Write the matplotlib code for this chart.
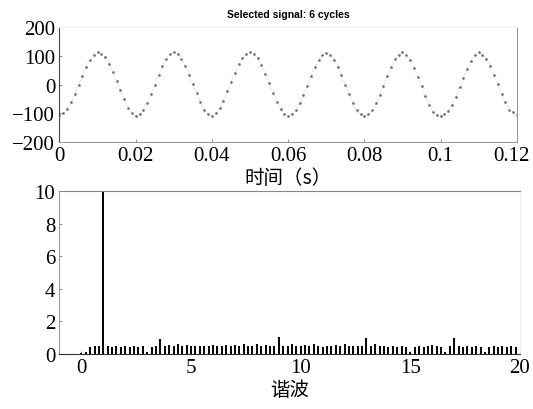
import numpy as np
import matplotlib
matplotlib.use("Agg")
import matplotlib.pyplot as plt
import matplotlib.transforms as mtrans

t_ms = np.arange(0, 121)
signal = [-106, -100, -86, -62, -33, -2, 30, 62, 86, 101,
          112, 106, 94, 72, 44, 12, -20, -52, -80, -100,
          -110, -104, -88, -64, -34, -2, 32, 64, 90, 106,
          114, 106, 90, 66, 34, 2, -30, -62, -88, -104,
          -108, -100, -82, -56, -24, 8, 40, 70, 92, 106,
          112, 106, 92, 68, 36, 4, -28, -60, -86, -102,
          -108, -104, -90, -66, -36, -4, 28, 60, 86, 104,
          110, 102, 86, 62, 32, 0, -34, -66, -90, -104,
          -110, -104, -90, -66, -36, -4, 30, 62, 88, 104,
          112, 102, 84, 58, 26, -6, -40, -70, -94, -106,
          -108, -104, -92, -70, -42, -10, 22, 54, 82, 102,
          112, 104, 88, 64, 34, 2, -32, -62, -88, -96,
          -106]
time_s = t_ms / 1000.0

# harmonic spectrum, 0.2 harmonic steps
harm = np.round(np.arange(0, 100) * 0.2, 1)
amp = [0.05, 0.15, 0.45, 0.5, 0.5, 100, 0.5, 0.45, 0.5, 0.45,
       0.5, 0.45, 0.5, 0.45, 0.5, 0.1, 0.45, 0.5, 0.95, 0.5,
       0.55, 0.5, 0.6, 0.5, 0.55, 0.5, 0.5, 0.5, 0.5, 0.5,
       0.55, 0.5, 0.5, 0.55, 0.5, 0.55, 0.5, 0.6, 0.5, 0.5,
       0.6, 0.5, 0.55, 0.5, 0.5, 1.05, 0.5, 0.5, 0.6, 0.5,
       0.5, 0.55, 0.5, 0.6, 0.5, 0.45, 0.5, 0.5, 0.55, 0.5,
       0.6, 0.5, 0.5, 0.5, 0.5, 1.0, 0.5, 0.6, 0.5, 0.5,
       0.45, 0.5, 0.45, 0.5, 0.45, 0.1, 0.45, 0.5, 0.45, 0.5,
       0.55, 0.5, 0.45, 0.1, 0.5, 1.0, 0.5, 0.45, 0.5, 0.45,
       0.5, 0.45, 0.1, 0.45, 0.5, 0.45, 0.5, 0.45, 0.5, 0.45]

serif = "Liberation Serif"
cjk = ["Noto Sans CJK SC", "DejaVu Sans"]

fig = plt.figure(figsize=(5.33, 4.10), dpi=100)

# top: time signal
ax1 = fig.add_axes([0.1116, 0.6512, 0.858, 0.2805])
ax1.plot(time_s, signal, linestyle=":", color="#c8c8c8", linewidth=0.7)
ax1.plot(time_s, signal, linestyle="none", marker=".", markersize=1.8, color="#707070")
ax1.set_xlim(0, 0.12)
ax1.set_ylim(-200, 200)
ax1.set_xticks([0, 0.02, 0.04, 0.06, 0.08, 0.1, 0.12])
ax1.set_xticklabels(["0", "0.02", "0.04", "0.06", "0.08", "0.1", "0.12"])
ax1.set_yticks([-200, -100, 0, 100, 200])
ax1.set_title("Selected signal: 6 cycles", fontsize=7.5, fontweight="bold",
              family="Liberation Sans", pad=7)
ax1.set_xlabel("时间（s）", fontsize=14, family=cjk, labelpad=1)
ax1.spines["top"].set_color("#eeeeee")
ax1.spines["bottom"].set_color("#999999")
ax1.spines["right"].set_color("#999999")
ax1.spines["left"].set_color("#444444")

# bottom: harmonic spectrum
ax2 = fig.add_axes([0.1116, 0.1341, 0.864, 0.3976])
ax2.vlines(harm, 0, amp, color="black", linewidth=1.4)
ax2.set_xlim(-1, 20)
ax2.set_ylim(0, 10)
ax2.set_xticks([0, 5, 10, 15, 20])
ax2.set_yticks([0, 2, 4, 6, 8, 10])
ax2.set_xlabel("谐波", fontsize=14, family=cjk, labelpad=1)
ax2.spines["top"].set_color("#888888")
ax2.spines["right"].set_color("#eeeeee")
ax2.spines["left"].set_color("#999999")
ax2.spines["bottom"].set_color("#333333")

for ax in (ax1, ax2):
    ax.tick_params(direction="in", length=2, width=0.6, colors="#777777",
                   labelcolor="black", labelsize=15, pad=3)
    for lab in ax.get_xticklabels() + ax.get_yticklabels():
        lab.set_family(serif)
    for sp in ax.spines.values():
        sp.set_linewidth(0.8)

# nudge the last top tick label so it stays inside the figure
shift = mtrans.ScaledTranslation(-5 / 100, 0, fig.dpi_scale_trans)
last = ax1.get_xticklabels()[-1]
last.set_transform(last.get_transform() + shift)

fig.savefig("out.png", dpi=100)
